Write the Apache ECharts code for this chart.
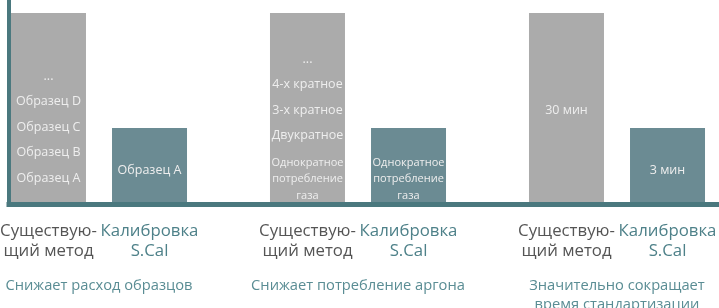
<!DOCTYPE html>
<html>
<head>
<meta charset="utf-8">
<script src="https://cdn.jsdelivr.net/npm/echarts@6/dist/echarts.min.js"></script>
<style>
  html, body { margin: 0; padding: 0; background: #fff; }
  #main { width: 719px; height: 308px; }
</style>
</head>
<body>
<div id="main"></div>
<script>
// группы сравнения (подписи под осью)
var groups = ['Снижает расход образцов', 'Снижает потребление аргона', 'Значительно сокращает\nвремя стандартизации'];
var methods = ['Существую-\nщий метод', 'Калибровка\nS.Cal'];

// высоты столбиков (условные)
var existingValues = [93.6, 93.6, 93.6];
var scalValues = [36.6, 36.6, 36.6];

// надписи внутри столбиков
var existingText = [
    ['...', 'Образец D', 'Образец C', 'Образец B', 'Образец A'],
    ['...', '4-х кратное', '3-х кратное', 'Двукратное', 'Однократное\nпотребление\nгаза'],
    ['30 мин']
];
var scalText = ['Образец A', 'Однократное\nпотребление\nгаза', '3 мин'];

var FONT = 'Open Sans';
var C_GRAY = '#ababab';
var C_TEAL = '#6b8b93';
var C_LINE = '#4a787e';

var chart = echarts.init(document.getElementById('main'), null, {renderer: 'canvas'});

function grayLabel(i) {
    var lines = existingText[i];
    if (lines.length == 1) {
        return {position: 'inside', offset: [0, 3], formatter: lines[0]};
    }
    // верхние строки с крупным шагом, нижняя многострочная - плотнее
    var parts = [];
    for (var k = 0; k < lines.length; k++) {
        var sub = lines[k].split('\n');
        if (sub.length > 1) {
            parts.push('{s| }');
        }
        for (var m = 0; m < sub.length; m++) {
            parts.push('{' + (sub.length > 1 ? 't' : 'n') + '|' + sub[m] + '}');
        }
    }
    return {
        position: 'insideBottom',
        distance: i == 1 ? -2 : 11,
        formatter: parts.join('\n')
    };
}

function tealLabel(i) {
    var sub = scalText[i].split('\n');
    if (sub.length > 1) {
        return {
            position: 'insideBottom',
            distance: -2,
            formatter: sub.map(function (s) { return '{t|' + s + '}'; }).join('\n')
        };
    }
    return {position: 'inside', offset: [0, 5], formatter: sub[0]};
}

var richInside = {
    n: {fontFamily: FONT, fontSize: 12.5, color: '#eeeeee', lineHeight: 25.5},
    t: {fontFamily: FONT, fontSize: 11, color: '#eeeeee', lineHeight: 16.5},
    s: {fontFamily: FONT, fontSize: 4, lineHeight: 6}
};

var m0 = methods[0].split('\n');
var m1 = methods[1].split('\n');

var option = {
    animation: false,
    grid: [
        {left: -30.5, right: -27.5, top: 0, bottom: 106, outerBoundsMode: 'none', containLabel: false},
        {left: 9, right: 0, top: 0, bottom: 103.5, outerBoundsMode: 'none', containLabel: false}
    ],
    xAxis: [
        {
            type: 'category',
            gridIndex: 0,
            data: groups,
            axisLine: {show: false},
            axisTick: {show: false},
            axisLabel: {
                margin: 19,
                interval: 0,
                formatter: function () {
                    return '{a|' + m0[0] + '}{b|' + m1[0] + '}\n{a|' + m0[1] + '}{b|' + m1[1] + '}';
                },
                rich: {
                    a: {fontFamily: FONT, fontSize: 16.8, color: '#555555', width: 101, align: 'center', lineHeight: 20},
                    b: {fontFamily: FONT, fontSize: 16.8, color: '#4e8189', width: 101, align: 'center', lineHeight: 20}
                }
            }
        },
        {
            type: 'category',
            gridIndex: 0,
            position: 'bottom',
            data: groups,
            axisLine: {show: false},
            axisTick: {show: false},
            axisLabel: {
                margin: 74,
                interval: 0,
                fontFamily: FONT,
                fontSize: 14.7,
                lineHeight: 19,
                color: '#5a8d94'
            }
        },
        {
            type: 'value',
            gridIndex: 1,
            min: 0,
            max: 1,
            axisLine: {show: true, lineStyle: {color: C_LINE, width: 5, cap: 'square'}},
            axisTick: {show: false},
            axisLabel: {show: false},
            splitLine: {show: false}
        }
    ],
    yAxis: [
        {
            type: 'value',
            gridIndex: 0,
            min: 0,
            max: 100,
            show: false
        },
        {
            type: 'value',
            gridIndex: 1,
            min: 0,
            max: 1,
            axisLine: {show: true, lineStyle: {color: C_LINE, width: 4, cap: 'butt'}},
            axisTick: {show: false},
            axisLabel: {show: false},
            splitLine: {show: false}
        }
    ],
    series: [
        {
            name: methods[0],
            type: 'bar',
            xAxisIndex: 0,
            yAxisIndex: 0,
            barWidth: 75,
            barGap: '34.7%',
            itemStyle: {color: C_GRAY},
            label: {show: true, fontFamily: FONT, fontSize: 12.5, color: '#eeeeee', rich: richInside},
            data: existingValues.map(function (v, i) {
                return {value: v, label: grayLabel(i)};
            })
        },
        {
            name: methods[1],
            type: 'bar',
            xAxisIndex: 0,
            yAxisIndex: 0,
            barWidth: 75,
            barGap: '34.7%',
            itemStyle: {color: C_TEAL},
            label: {show: true, fontFamily: FONT, fontSize: 12.5, color: '#eeeeee', rich: richInside},
            data: scalValues.map(function (v, i) {
                return {value: v, label: tealLabel(i)};
            })
        }
    ]
};

chart.setOption(option);
</script>
</body>
</html>
